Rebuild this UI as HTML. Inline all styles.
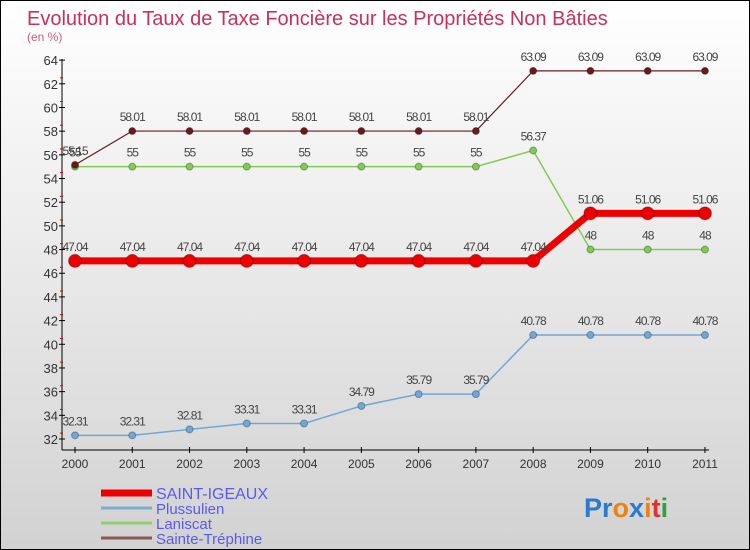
<!DOCTYPE html>
<html><head><meta charset="utf-8"><style>
body{margin:0;}
#c{width:750px;height:550px;position:relative;background:linear-gradient(#ffffff,#d2d2d2);box-sizing:border-box;border:1px solid #000;overflow:hidden;font-family:"Liberation Sans",sans-serif;}
</style></head><body>
<div id="c">
<svg id="s" width="748" height="548"></svg>
</div>
<script>
const years=["2000","2001","2002","2003","2004","2005","2006","2007","2008","2009","2010","2011"];
const saint=[47.04,47.04,47.04,47.04,47.04,47.04,47.04,47.04,47.04,51.06,51.06,51.06];
const pluss=[32.31,32.31,32.81,33.31,33.31,34.79,35.79,35.79,40.78,40.78,40.78,40.78];
const lanis=[55,55,55,55,55,55,55,55,56.37,48,48,48];
const trep=[55.15,58.01,58.01,58.01,58.01,58.01,58.01,58.01,63.09,63.09,63.09,63.09];
const yTicks=[32,34,36,38,40,42,44,46,48,50,52,54,56,58,60,62,64];
const NS="http://www.w3.org/2000/svg";
const s=document.getElementById('s');
function X(i){return 74+i*57.27;}
function Y(v){return 438-(v-32)*11.84;}
function el(t,a,p){const e=document.createElementNS(NS,t);for(const k in a)e.setAttribute(k,a[k]);(p||s).appendChild(e);return e;}
let t=el('text',{x:26,y:24,'font-size':20,fill:'#c8325a'});t.textContent='Evolution du Taux de Taxe Foncière sur les Propriétés Non Bâties';

t=el('text',{x:26,y:40,'font-size':12,fill:'#d05a7a'});t.textContent='(en %)';

let a=el('line',{x1:61,y1:58,x2:61,y2:449,stroke:'#000'});
a=el('line',{x1:61,y1:449,x2:708,y2:449,stroke:'#000'});
yTicks.forEach(v=>{const y=Y(v);el('line',{x1:58,y1:y,x2:64,y2:y,stroke:'#000'});
 if(v<64)el('line',{x1:59,y1:y-5.92,x2:62,y2:y-5.92,stroke:'#d00'});
 const tt=el('text',{x:57,y:y+5,'font-size':13,fill:'#333','text-anchor':'end'});tt.textContent=v;
 });
years.forEach((yr,i)=>{const x=X(i);el('line',{x1:x,y1:446,x2:x,y2:452,stroke:'#000'});
 const tt=el('text',{x:x,y:467,'font-size':12,fill:'#333','text-anchor':'middle'});tt.textContent=yr;
 });
function series(name,vals,color,w,r,lab){
 const g=el('g',{});
 el('polyline',{points:vals.map((v,i)=>X(i)+','+Y(v)).join(' '),fill:'none',stroke:color,'stroke-width':w,'stroke-linejoin':'round'},g);
 vals.forEach((v,i)=>{const c=el('circle',{cx:X(i),cy:Y(v),r:r,fill:color,stroke:'rgba(0,0,0,0.3)'},g);
  
  const tt=el('text',{x:X(i),y:Y(v)-10,'font-size':12,fill:'#444','text-anchor':'middle','letter-spacing':'-1'},g);tt.textContent=String(v);
  });
}
series('plussulien',pluss,'#6fa8d8',1.5,3.5);
series('laniscat',lanis,'#80cc50',1.5,3.5);
series('sainte-trephine',trep,'#6a1a1a',1.2,3.5);
series('saint-igeaux',saint,'#ee0000',7,6.5);
const leg=[["SAINT-IGEAUX","#ee0000",7],["Plussulien","#7aaed0",3],["Laniscat","#90d070",3],["Sainte-Tréphine","#8a5858",3]];
leg.forEach((l,i)=>{const y=492+i*15;const g=el('g',{});
 el('line',{x1:100,y1:y,x2:151,y2:y,stroke:l[1],'stroke-width':l[2]},g);
 const tt=el('text',{x:155,y:y+6,'font-size':i==0?16:15,fill:'#5a5af0'},g);tt.textContent=l[0];});
const lg=el('text',{x:583,y:516,'font-size':27,'font-weight':'bold'});
[["Pr","#2a7ad0"],["o","#f08010"],["x","#2a7ad0"],["i","#f08010"],["t","#e03030"],["i","#30a040"]].forEach(p=>{const ts=el('tspan',{fill:p[1]},lg);ts.textContent=p[0];});
</script>
</body></html>
